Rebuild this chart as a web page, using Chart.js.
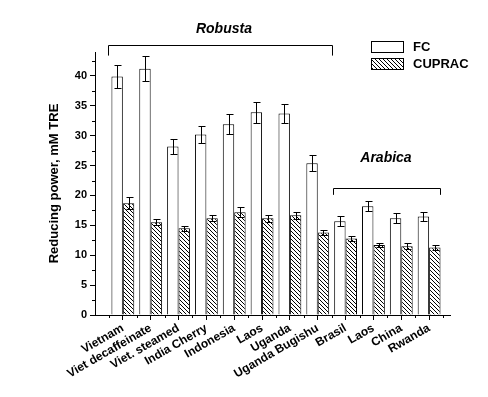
<!DOCTYPE html>
<html>
<head>
<meta charset="utf-8">
<script src="https://cdn.jsdelivr.net/npm/chart.js@4.4.1/dist/chart.umd.min.js"></script>
<style>
	body { margin: 0; background: #fff; }
</style>
</head>
<body>
<canvas id="power-chart" width="488" height="397"></canvas>
<script>
const categories = ['Vietnam', 'Viet decaffeinate', 'Viet. steamed', 'India Cherry', 'Indonesia', 'Laos', 'Uganda', 'Uganda Bugishu', 'Brasil', 'Laos', 'China', 'Rwanda'];
const fcValues = [39.9, 41.2, 28.2, 30.2, 31.9, 33.9, 33.7, 25.4, 15.7, 18.2, 16.2, 16.5];
const fcErrors = [2.0, 2.1, 1.3, 1.5, 1.7, 1.7, 1.6, 1.3, 0.8, 0.8, 0.8, 0.7];
const cupracValues = [18.7, 15.5, 14.5, 16.2, 17.2, 16.2, 16.7, 13.8, 12.8, 11.7, 11.5, 11.3];
const cupracErrors = [1.0, 0.5, 0.4, 0.5, 0.8, 0.6, 0.6, 0.4, 0.5, 0.4, 0.5, 0.4];
const yTicks = [0, 5, 10, 15, 20, 25, 30, 35, 40];
const groupNames = ['Robusta', 'Arabica'];
const groupFirst = [0, 8];
const groupLast = [7, 11];

const FONT = "'Liberation Sans', Arial, sans-serif";

function hatchPattern() {
	const c = document.createElement('canvas');
	c.width = 4;
	c.height = 4;
	const g = c.getContext('2d');
	g.fillStyle = '#fff';
	g.fillRect(0, 0, 4, 4);
	g.fillStyle = '#000';
	for (let i = 0; i < 4; i++) g.fillRect(i, i, 1, 1);
	return g.createPattern(c, 'repeat');
}

// error bars from the errors arrays
const errorBars = {
	id: 'errorBars',
	afterDatasetsDraw(chart) {
		const { ctx, scales: { y } } = chart;
		ctx.save();
		ctx.strokeStyle = '#000';
		ctx.lineWidth = 1;
		chart.data.datasets.forEach((ds, di) => {
			chart.getDatasetMeta(di).data.forEach((bar, i) => {
				const v = ds.data[i].y;
				const e = ds.errors[i];
				const top = Math.round(y.getPixelForValue(v + e)) + 0.5;
				const bot = Math.round(y.getPixelForValue(v - e)) + 0.5;
				const x = Math.round(bar.x) + 0.5;
				ctx.beginPath();
				ctx.moveTo(x, top); ctx.lineTo(x, bot);
				ctx.moveTo(x - 3, top); ctx.lineTo(x + 4, top);
				ctx.moveTo(x - 3, bot); ctx.lineTo(x + 4, bot);
				ctx.stroke();
			});
		});
		ctx.restore();
	},
};

// minor ticks, group brackets, legend
const extras = {
	id: 'extras',
	afterDraw(chart) {
		const { ctx, scales: { x, y } } = chart;
		ctx.save();
		ctx.strokeStyle = '#000';
		ctx.lineWidth = 1;
		ctx.beginPath();
		for (let v = 2.5; v < 44; v += 5) {
			const py = Math.round(y.getPixelForValue(v)) + 0.5;
			ctx.moveTo(x.left, py); ctx.lineTo(x.left - 3, py);
		}
		for (let v = 0.5; v < 12.75; v += 1) {
			const px = Math.round(x.getPixelForValue(v)) + 0.5;
			ctx.moveTo(px, y.bottom); ctx.lineTo(px, y.bottom + 3);
		}
		ctx.stroke();

		// brackets
		const bracket = [
			{ from: groupFirst[0] + 0.45, to: groupLast[0] + 1.5, at: 45.2, end: 43.4, text: 4.63, textAt: 47.8 },
			{ from: groupFirst[1] + 0.53, to: groupLast[1] + 1.4, at: 21.2, end: 20.1, text: 10.45, textAt: 26.3 },
		];
		ctx.font = `italic bold 14px ${FONT}`;
		ctx.fillStyle = '#000';
		ctx.textAlign = 'center';
		ctx.textBaseline = 'middle';
		bracket.forEach((b, i) => {
			const x1 = Math.round(x.getPixelForValue(b.from)) + 0.5;
			const x2 = Math.round(x.getPixelForValue(b.to)) + 0.5;
			const py = Math.round(y.getPixelForValue(b.at)) + 0.5;
			const pe = y.getPixelForValue(b.end);
			ctx.beginPath();
			ctx.moveTo(x1, pe); ctx.lineTo(x1, py); ctx.lineTo(x2, py); ctx.lineTo(x2, pe);
			ctx.stroke();
			ctx.fillText(groupNames[i], x.getPixelForValue(b.text), y.getPixelForValue(b.textAt));
		});

		// legend
		ctx.font = `bold 13px ${FONT}`;
		ctx.textAlign = 'left';
		chart.data.datasets.forEach((ds, i) => {
			const top = 40.5 + i * 17.5;
			ctx.fillStyle = ds.backgroundColor;
			ctx.fillRect(371.5, Math.round(top) + 0.5, 32, 11);
			ctx.strokeRect(371.5, Math.round(top) + 0.5, 32, 11);
			ctx.fillStyle = '#000';
			ctx.fillText(ds.label, 413, top + 6.5);
		});
		ctx.restore();
	},
};

const $canvas = document.getElementById('power-chart');

const data = {
	datasets: [
		{
			label: 'FC',
			data: categories.map((c, i) => ({ x: i + 1, y: fcValues[i] })),
			errors: fcErrors,
			backgroundColor: '#ffffff',
			borderColor: '#000',
			borderWidth: 1,
		},
		{
			label: 'CUPRAC',
			data: categories.map((c, i) => ({ x: i + 1, y: cupracValues[i] })),
			errors: cupracErrors,
			backgroundColor: hatchPattern(),
			borderColor: '#000',
			borderWidth: 1,
		},
	],
};

const config = {
	type: 'bar',
	data: data,
	options: {
		responsive: false,
		animation: false,
		categoryPercentage: 0.82,
		barPercentage: 1,
		layout: { padding: { top: 52, right: 38, left: 0, bottom: 0 } },
		scales: {
			x: {
				type: 'linear',
				min: 0,
				max: 12.75,
				offset: false,
				afterFit: (s) => { s.height = 82; },
				afterBuildTicks: (s) => { s.ticks = categories.map((c, i) => ({ value: i + 1 })); },
				grid: { offset: false, drawOnChartArea: false, tickLength: 5, color: '#000' },
				border: { color: '#000', width: 1 },
				ticks: {
					autoSkip: false,
					minRotation: 30,
					maxRotation: 30,
					padding: 1,
					color: '#000',
					font: { family: FONT, size: 12, weight: 'bold' },
					callback: (v) => categories[v - 1] ?? '',
				},
			},
			y: {
				min: 0,
				max: 44,
				afterFit: (s) => { s.width = 95; },
				afterBuildTicks: (s) => { s.ticks = yTicks.map((v) => ({ value: v })); },
				grid: { drawOnChartArea: false, tickLength: 5, color: '#000' },
				border: { color: '#000', width: 1 },
				ticks: {
					padding: 3,
					color: '#000',
					font: { family: FONT, size: 11, weight: 'bold' },
				},
				title: {
					display: true,
					text: 'Reducing power, mM TRE',
					color: '#000',
					font: { family: FONT, size: 13, weight: 'bold' },
					padding: { top: 47, bottom: 0 },
				},
			},
		},
		plugins: {
			legend: { display: false },
			tooltip: { enabled: false },
		},
	},
	plugins: [errorBars, extras],
};

const myChart = new Chart($canvas, config);
</script>
</body>
</html>
